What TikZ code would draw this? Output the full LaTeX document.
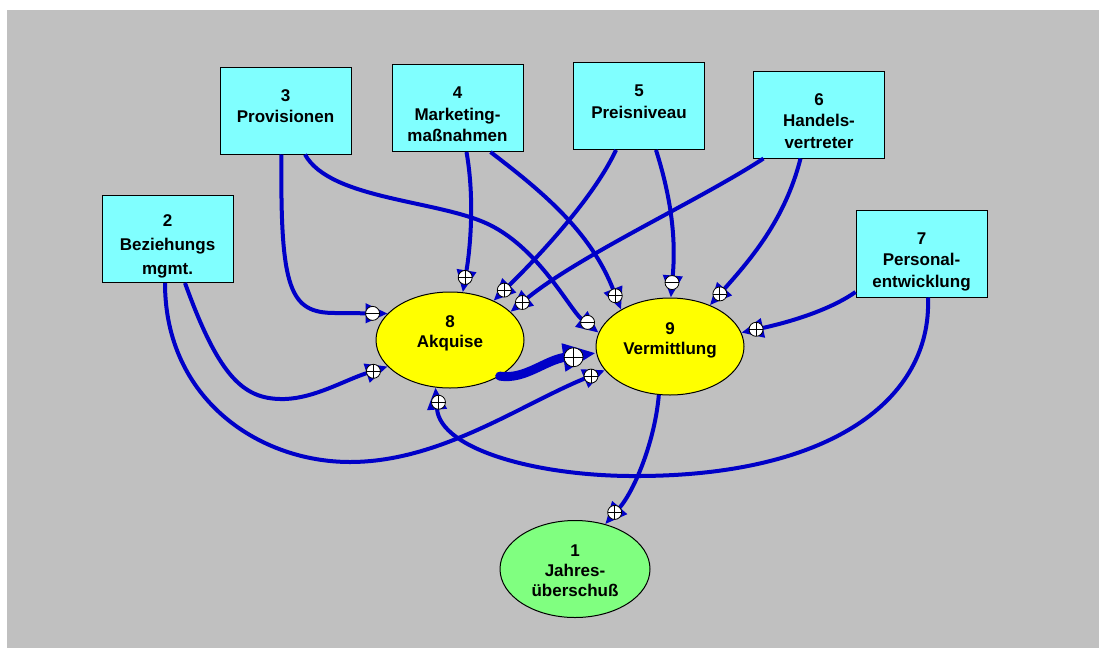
\documentclass[tikz,border=0pt]{standalone}
\usepackage{fontspec}
\setmainfont{Liberation Sans}
\usepackage{tikz}
\usetikzlibrary{arrows.meta,positioning,calc,shapes.geometric,decorations.markings}

\definecolor{panelgray}{RGB}{192,192,192}
\definecolor{boxcyan}{RGB}{128,255,255}
\definecolor{blobyellow}{RGB}{255,255,0}
\definecolor{blobgreen}{RGB}{128,255,128}
\definecolor{linkblue}{RGB}{0,0,200}
\newcommand{\boxfont}{\fontsize{17}{21.5}\selectfont\bfseries}
\newcommand{\blobfont}{\fontsize{17}{20}\selectfont\bfseries}

\tikzset{
  box/.style={draw=black, line width=1pt, fill=boxcyan, minimum width=131pt,
    inner sep=0pt, align=center, font=\boxfont},
  boxtwo/.style={box, text height=55.5pt, text depth=31.5pt},
  boxthree/.style={box, text height=77pt, text depth=10pt},
  blob/.style={ellipse, draw=black, line width=1pt, inner sep=0pt, align=center,
    font=\blobfont},
  sgn/.style={circle, draw=black, line width=0.8pt, fill=white, inner sep=0pt,
    minimum size=14pt},
  sgnp/.style={sgn, path picture={\draw[-, black, line width=0.8pt]
    (path picture bounding box.north) -- (path picture bounding box.south)
    (path picture bounding box.west) -- (path picture bounding box.east);}},
  sgnm/.style={sgn, path picture={\draw[-, black, line width=0.8pt]
    (path picture bounding box.west) -- (path picture bounding box.east);}},
  link/.style={draw=linkblue, line width=4pt, -{Triangle[length=22pt,width=19pt]},
    postaction={decorate}},
  pluslink/.style={link, decoration={markings,
    mark=at position -15pt with {\node[sgnp] {};}}},
  minuslink/.style={link, decoration={markings,
    mark=at position -15pt with {\node[sgnm] {};}}},
  biglink/.style={draw=linkblue, line width=9pt, line cap=round,
    -{Triangle[length=33pt,width=26pt]}, postaction={decorate},
    decoration={markings, mark=at position -23pt with
      {\node[sgnp, minimum size=19pt] {};}}},
}

\begin{document}
\begin{tikzpicture}[x=1pt,y=-1pt]
\useasboundingbox (0,0) rectangle (1099,648);
\fill[white] (0,0) rectangle (1099,648);
\fill[panelgray] (7,10) rectangle (1099,648);

% influencing factors
\node[boxtwo] (n3) at (285.5,110.5) {3\\Provisionen};
\node[boxthree] (n4) at (457.5,108) {4\\Marketing-\\maßnahmen};
\node[boxtwo] (n5) at (639,106) {5\\Preisniveau};
\node[boxthree] (n6) at (819,114.5) {6\\Handels-\\vertreter};
\node[boxthree, font=\fontsize{17}{24}\selectfont\bfseries, text height=79pt,
  text depth=8pt] (n2) at (167.5,239) {2\\Beziehungs\\mgmt.};
\node[boxthree] (n7) at (921.5,253.5) {7\\Personal-\\entwicklung};

% processes and result
\node[blob, fill=blobyellow, minimum width=148pt, minimum height=96pt,
  text height=20pt, text depth=6pt] (n8) at (450,340) {8\\Akquise};
\node[blob, fill=blobyellow, minimum width=148pt, minimum height=97pt,
  text height=20pt, text depth=5pt] (n9) at (670,346.5) {9\\Vermittlung};
\node[blob, fill=blobgreen, minimum width=150pt, minimum height=97pt,
  text height=58pt, text depth=4pt] (n1) at (575,569) {1\\Jahres-\\überschuß};

% links into Akquise
\draw[minuslink] ([xshift=-4pt]n3.south) .. controls (280,290) and (290,313) .. (335,313) -- (n8.157);
\draw[pluslink] ([xshift=17.5pt]n2.south) .. controls (220,380) and (245,400) .. (285,399)
  .. controls (315,398) and (345,380) .. (n8.203);
\draw[pluslink] ([xshift=9pt]n4.south) .. controls (475,200) and (470,250) .. (n8.75);
\draw[pluslink] ([xshift=-23pt]n5.south) .. controls (595,195) and (545,250) .. (n8.42);
\draw[pluslink] ([xshift=-55.5pt]n6.south) .. controls (700,200) and (580,255) .. (n8.25);
\draw[pluslink] ([xshift=6.5pt]n7.south) .. controls (932,400) and (830,475) .. (640,476)
  .. controls (540,477) and (440,450) .. (n8.253);

% links into Vermittlung
\draw[minuslink] ([xshift=19.5pt]n3.south) .. controls (330,200) and (440,200) .. (490,225)
  .. controls (540,250) and (570,310) .. (n9.169);
\draw[pluslink] ([xshift=33pt]n4.south) .. controls (540,190) and (590,230) .. (n9.143);
\draw[minuslink] ([xshift=17pt]n5.south) .. controls (675,210) and (675,250) .. (n9.89);
\draw[pluslink] ([xshift=-18.5pt]n6.south) .. controls (785,220) and (750,260) .. (n9.46);
\draw[pluslink] ([yshift=-38.5pt]n7.west) .. controls (830,310) and (790,322) .. (n9.11);
\draw[pluslink] ([xshift=-2.5pt]n2.south) .. controls (165,400) and (260,462) .. (350,462)
  .. controls (440,462) and (520,405) .. (n9.200);
\draw[biglink] (n8.-36) .. controls (525,380) and (545,360) .. (n9.185);

% result
\draw[pluslink] (n9.257) .. controls (655,440) and (635,490) .. (n1.56);
\end{tikzpicture}
\end{document}
